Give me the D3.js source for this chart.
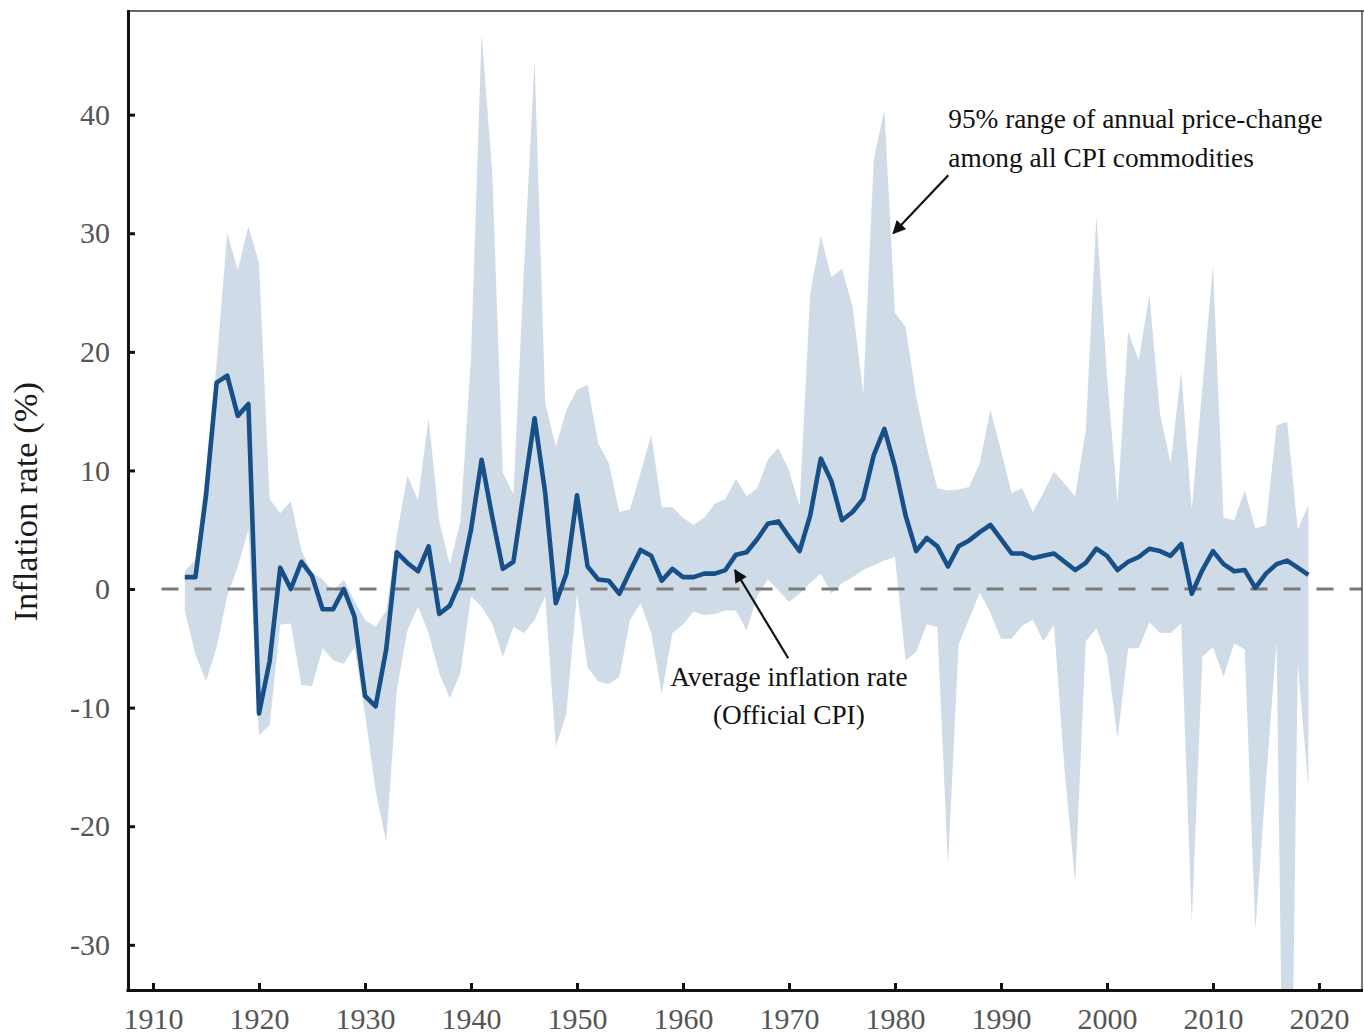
<!DOCTYPE html>
<html>
<head>
<meta charset="utf-8">
<script src="https://cdn.jsdelivr.net/npm/d3@7"></script>
<style>
  html, body { margin: 0; padding: 0; background: #fff; }
  svg { display: block; }
  text { font-family: "Liberation Serif", "Times New Roman", serif; }
</style>
</head>
<body>
<svg id="chart" width="1364" height="1034"></svg>
<script>
// ---------------- data ----------------
const years = d3.range(1913, 2020);

const cpi = [
  1.0, 1.0, 7.9, 17.4, 18.0, 14.6, 15.6, -10.5, -6.1, 1.8,
  0.0, 2.3, 1.1, -1.7, -1.7, 0.0, -2.3, -9.0, -9.9, -5.1,
  3.1, 2.2, 1.5, 3.6, -2.1, -1.4, 0.7, 5.0, 10.9, 6.1,
  1.7, 2.3, 8.3, 14.4, 8.1, -1.2, 1.3, 7.9, 1.9, 0.8,
  0.7, -0.4, 1.5, 3.3, 2.8, 0.7, 1.7, 1.0, 1.0, 1.3,
  1.3, 1.6, 2.9, 3.1, 4.2, 5.5, 5.7, 4.4, 3.2, 6.2,
  11.0, 9.1, 5.8, 6.5, 7.6, 11.3, 13.5, 10.3, 6.2, 3.2,
  4.3, 3.6, 1.9, 3.6, 4.1, 4.8, 5.4, 4.2, 3.0, 3.0,
  2.6, 2.8, 3.0, 2.3, 1.6, 2.2, 3.4, 2.8, 1.6, 2.3,
  2.7, 3.4, 3.2, 2.8, 3.8, -0.4, 1.6, 3.2, 2.1, 1.5,
  1.6, 0.1, 1.3, 2.1, 2.4, 1.8, 1.2
];

const upper95 = [
  1.5, 2.5, 10.0, 19.0, 30.0, 26.9, 30.6, 27.5, 7.6, 6.4,
  7.4, 3.3, 1.3, 0.8, -0.2, 0.8, -1.0, -2.6, -3.2, -1.8,
  4.5, 9.6, 7.5, 14.4, 5.7, 2.1, 5.7, 19.5, 46.8, 35.2,
  9.8, 8.0, 27.0, 44.6, 15.7, 12.0, 15.1, 16.8, 17.2, 12.3,
  10.6, 6.5, 6.7, 9.8, 13.0, 6.9, 6.9, 6.0, 5.4, 6.0,
  7.2, 7.6, 9.3, 7.8, 8.5, 10.9, 11.9, 10.0, 7.0, 24.9,
  29.8, 26.3, 27.0, 23.8, 16.5, 36.2, 40.4, 23.3, 22.1, 16.2,
  12.0, 8.5, 8.3, 8.4, 8.6, 10.6, 15.1, 11.7, 8.1, 8.5,
  6.5, 8.1, 9.9, 8.9, 7.8, 13.4, 31.4, 18.0, 7.3, 21.7,
  19.3, 24.8, 14.8, 10.6, 18.3, 6.7, 17.0, 27.3, 6.0, 5.8,
  8.3, 5.1, 5.4, 13.8, 14.1, 5.0, 7.1
];

const lower95 = [
  -1.8, -5.5, -7.8, -4.9, -0.6, 1.9, 5.0, -12.3, -11.5, -3.0,
  -2.9, -8.1, -8.2, -5.0, -6.0, -6.3, -4.9, -10.5, -17.0, -21.3,
  -8.5, -3.5, -1.5, -3.7, -7.1, -9.2, -7.1, -0.6, -1.5, -2.9,
  -5.7, -3.2, -3.7, -2.6, -0.6, -13.3, -10.5, -0.4, -6.6, -7.8,
  -8.0, -7.4, -2.6, -1.2, -3.7, -8.8, -3.7, -3.0, -1.9, -2.2,
  -2.1, -1.8, -1.8, -3.5, -0.6, 0.8, -0.1, -1.1, -0.4, 0.5,
  1.3, -0.4, 0.5, 1.0, 1.6, 2.0, 2.4, 2.7, -6.0, -5.3,
  -3.0, -3.2, -23.3, -4.7, -2.5, -0.3, -2.0, -4.2, -4.2, -3.1,
  -2.6, -4.4, -3.0, -15.3, -24.8, -4.4, -3.3, -5.6, -12.6, -5.0,
  -5.0, -2.8, -3.7, -3.7, -2.9, -28.2, -5.7, -4.9, -7.4, -4.6,
  -5.1, -28.8, -16.2, -4.4, -72.0, -6.3, -16.7
];

const xTicks = [1910, 1920, 1930, 1940, 1950, 1960, 1970, 1980, 1990, 2000, 2010, 2020];
const yTicks = [-30, -20, -10, 0, 10, 20, 30, 40];

const yLabel = "Inflation rate (%)";
const bandLabel = ["95% range of annual price-change", "among all CPI commodities"];
const lineLabel = ["Average inflation rate", "(Official CPI)"];

// ---------------- layout ----------------
const plot = { left: 128, right: 1362, top: 11, bottom: 990 };
const svg = d3.select("#chart");

const x = d3.scaleLinear().domain([1907.64, 2024.06]).range([plot.left, plot.right]);
const y = d3.scaleLinear().domain([-33.81, 48.74]).range([plot.bottom, plot.top]);

const rows = years.map((yr, i) => ({ year: yr, cpi: cpi[i], lo: lower95[i], hi: upper95[i] }));

const defs = svg.append("defs");
defs.append("clipPath").attr("id", "plotclip")
  .append("rect")
  .attr("x", plot.left).attr("y", plot.top)
  .attr("width", plot.right - plot.left).attr("height", plot.bottom - plot.top);

defs.append("marker")
  .attr("id", "arrowhead")
  .attr("viewBox", "0 0 10 10")
  .attr("refX", 9).attr("refY", 5)
  .attr("markerWidth", 6.5).attr("markerHeight", 6)
  .attr("markerUnits", "strokeWidth")
  .attr("orient", "auto")
  .append("path").attr("d", "M0,0 L10,5 L0,10 z").attr("fill", "#111");

const g = svg.append("g").attr("clip-path", "url(#plotclip)");

// band
g.append("path")
  .datum(rows)
  .attr("fill", "#cfdbe7")
  .attr("d", d3.area().x(d => x(d.year)).y0(d => y(d.lo)).y1(d => y(d.hi)));

// zero dashed line
g.append("line")
  .attr("x1", x(1910.8)).attr("x2", plot.right)
  .attr("y1", y(0)).attr("y2", y(0))
  .attr("stroke", "#7a7a7a").attr("stroke-width", 3)
  .attr("stroke-dasharray", "17,16");

// CPI line
g.append("path")
  .datum(rows)
  .attr("fill", "none")
  .attr("stroke", "#175089")
  .attr("stroke-width", 4.6)
  .attr("stroke-linejoin", "round")
  .attr("d", d3.line().x(d => x(d.year)).y(d => y(d.cpi)));

// frame (top/right thin)
svg.append("line").attr("x1", plot.left).attr("x2", 1364).attr("y1", plot.top).attr("y2", plot.top)
  .attr("stroke", "#333").attr("stroke-width", 1.6);
svg.append("line").attr("x1", plot.right).attr("x2", plot.right).attr("y1", plot.top).attr("y2", plot.bottom)
  .attr("stroke", "#333").attr("stroke-width", 1.3);

// axes
const fmt = d => String(d); // plain hyphen minus as in the original
const yAxis = svg.append("g").attr("transform", `translate(${plot.left},0)`)
  .call(d3.axisLeft(y).tickValues(yTicks).tickSizeInner(-7).tickSizeOuter(0).tickPadding(18)
    .tickFormat(fmt));
const xAxis = svg.append("g").attr("transform", `translate(0,${plot.bottom})`)
  .call(d3.axisBottom(x).tickValues(xTicks).tickSizeInner(-7).tickSizeOuter(0).tickPadding(18)
    .tickFormat(fmt));

[yAxis, xAxis].forEach(ax => {
  ax.select(".domain").attr("stroke", "#111").attr("stroke-width", 3);
  ax.selectAll(".tick line").attr("stroke", "#111").attr("stroke-width", 3);
  ax.selectAll(".tick text")
    .attr("fill", "#555")
    .style("font-family", '"Liberation Serif", "Times New Roman", serif')
    .style("font-size", "30px");
});
yAxis.select(".domain").attr("d", `M0.5,${plot.top - 1}V${plot.bottom + 1.5}`);
xAxis.select(".domain").attr("d", `M${plot.left - 1.5},0.5H${plot.right + 1}`);

// y axis title
svg.append("text")
  .attr("transform", `translate(37, ${y(7.36)}) rotate(-90)`)
  .attr("text-anchor", "middle")
  .attr("fill", "#1a1a1a")
  .style("font-size", "34.5px")
  .text(yLabel);

// annotations
const ann = svg.append("g").attr("fill", "#111").style("font-size", "27.3px");
const t1 = ann.append("text").attr("x", x(1985.03)).attr("y", y(38.87));
t1.append("tspan").attr("x", x(1985.03)).text(bandLabel[0]);
t1.append("tspan").attr("x", x(1985.03)).attr("dy", 39).text(bandLabel[1]);

const t2 = ann.append("text").attr("text-anchor", "middle").attr("x", x(1969.99)).attr("y", y(-8.18));
t2.append("tspan").attr("x", x(1969.99)).text(lineLabel[0]);
t2.append("tspan").attr("x", x(1969.99)).attr("dy", 38).text(lineLabel[1]);

svg.append("line")
  .attr("x1", x(1985.03)).attr("y1", y(34.9))
  .attr("x2", x(1979.84)).attr("y2", y(30.0))
  .attr("stroke", "#111").attr("stroke-width", 2.2)
  .attr("marker-end", "url(#arrowhead)");
svg.append("line")
  .attr("x1", x(1969.93)).attr("y1", y(-5.84))
  .attr("x2", x(1964.9)).attr("y2", y(1.6))
  .attr("stroke", "#111").attr("stroke-width", 2.2)
  .attr("marker-end", "url(#arrowhead)");
</script>
</body>
</html>
